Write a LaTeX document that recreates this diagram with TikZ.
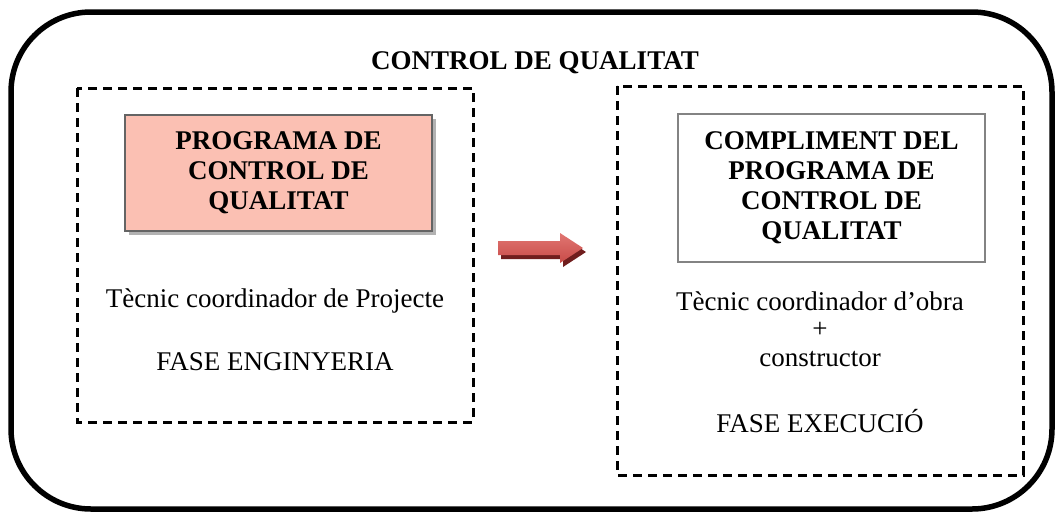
\documentclass[tikz,border=0pt]{standalone}
\usepackage{fontspec}
\setmainfont{Liberation Serif}
\definecolor{pinkfill}{RGB}{251,192,179}
\definecolor{boxgray}{RGB}{100,100,100}
\definecolor{shadowgray}{RGB}{178,178,178}
\definecolor{arrowred}{RGB}{200,75,72}
\definecolor{arrowlight}{RGB}{225,118,114}
\definecolor{arrowdark}{RGB}{112,30,30}
\tikzset{
  frame/.style={dashed, line width=3pt, dash pattern=on 9pt off 6pt},
  bigtext/.style={font=\fontsize{27}{30}\selectfont\bfseries, align=center, inner sep=0pt},
  plaintext/.style={font=\fontsize{27}{30}\selectfont, align=center, inner sep=0pt}
}
\begin{document}
\begin{tikzpicture}[x=1pt,y=1pt]
\useasboundingbox (0,0) rectangle (1055,-512);
\draw [black, line width=5.5pt, rounded corners=80pt] (11,-12) rectangle (1052,-509);
\draw (535,-63) node [bigtext] (title) {CONTROL DE QUALITAT};
% fase enginyeria
\draw [frame] (77,-88) rectangle (473,-422);
\fill [shadowgray] (129,-119) rectangle (436,-235);
\draw (278.5,-173) node [bigtext, fill=pinkfill, draw=boxgray, line width=2pt, minimum width=307pt, minimum height=116pt] (prog) {PROGRAMA DE\\CONTROL DE\\QUALITAT};
\draw (275,-301) node [plaintext] (tecproj) {Tècnic coordinador de Projecte};
\draw (275,-362) node [plaintext] (faseeng) {FASE ENGINYERIA};
% fletxa
\fill [arrowdark] (501,-245) -- (563,-245) -- (563,-237) -- (586,-252) -- (563,-267) -- (563,-259) -- (501,-259) -- cycle;
\shade [top color=arrowlight, bottom color=arrowred] (498,-241) -- (560,-241) -- (560,-233) -- (583,-248) -- (560,-263) -- (560,-255) -- (498,-255) -- cycle;
% fase execucio
\draw [frame] (617,-86) rectangle (1023,-475);
\draw (831.5,-188) node [bigtext, draw=boxgray!80, line width=2pt, minimum width=307pt, minimum height=148pt] (compl) {COMPLIMENT DEL\\PROGRAMA DE\\CONTROL DE\\QUALITAT};
\draw (820,-301) node [plaintext] (tecobra) {Tècnic coordinador d’obra};
\draw (820,-330) node [plaintext] (mes) {+};
\draw (820,-359) node [plaintext] (constr) {constructor};
\draw (820,-421) node [plaintext] (faseexe) {FASE EXECUCIÓ};
\end{tikzpicture}
\end{document}
